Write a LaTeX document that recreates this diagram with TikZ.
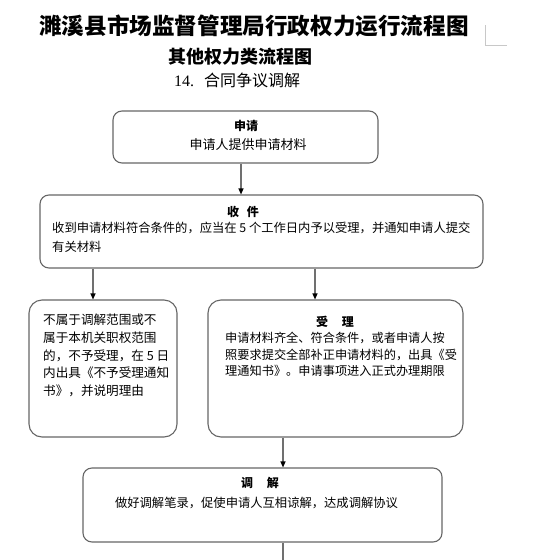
\documentclass[tikz,border=0pt]{standalone}
\usepackage{fontspec}
\setmainfont{Liberation Serif}
\newfontfamily\cjk{Noto Sans CJK SC}
\usetikzlibrary{arrows.meta}
\definecolor{boxgray}{HTML}{666666}
\definecolor{linegray}{HTML}{707070}
\definecolor{markgray}{HTML}{C8C8C8}
\tikzset{
  box/.style={draw=boxgray, line width=1.1pt, rounded corners=9pt, inner sep=0pt},
  arr/.style={draw=linegray, line width=1.1pt, -{Triangle[length=6pt,width=5pt,color=black]}},
  plain/.style={draw=linegray, line width=1.1pt},
  ttl/.style={inner sep=0pt, font=\cjk\bfseries},
  txt/.style={inner sep=0pt, font=\cjk\fontsize{12.3}{17}\selectfont, align=left},
  hd/.style={inner sep=0pt, font=\cjk\bfseries\fontsize{12}{14}\selectfont},
}
\begin{document}
\begin{tikzpicture}[x=1pt,y=-1pt]
\useasboundingbox (0,0) rectangle (550,560);
% titles
\node[ttl, font=\cjk\bfseries\fontsize{22.6}{24}\selectfont] (title) at (254,26) {濉溪县市场监督管理局行政权力运行流程图};
\node[ttl, font=\cjk\bfseries\fontsize{18}{20}\selectfont] (sub) at (240,57) {其他权力类流程图};
\node[inner sep=0pt] (num) at (237,80) {\fontsize{16}{18}\selectfont 14.\hspace{10pt}{\cjk 合同争议调解}};
% corner mark
\draw[markgray, line width=0.8pt] (485,25) -- (485,45) -- (507,45);
% boxes
\node[box, minimum width=265pt, minimum height=52pt] (apply) at (245.5,137) {};
\node[box, minimum width=443pt, minimum height=73pt] (receive) at (261.5,231.5) {};
\node[box, minimum width=148pt, minimum height=137pt, rounded corners=13pt] (reject) at (103,368.5) {};
\node[box, minimum width=255pt, minimum height=137pt, rounded corners=13pt] (accept) at (335.5,368.5) {};
\node[box, minimum width=359pt, minimum height=74pt] (mediate) at (262.5,505) {};
% texts
\node[hd] (applyh) at (246,126) {申请};
\node[txt, font=\cjk\fontsize{13}{15}\selectfont] (applyt) at (248,145) {申请人提供申请材料};
\node[hd] (receiveh) at (243,212) {收\hspace{8pt}件};
\node[txt, anchor=west] (receivet1) at (52,228) {收到申请材料符合条件的，应当在 5 个工作日内予以受理，并通知申请人提交};
\node[txt, anchor=west] (receivet2) at (52,247) {有关材料};
\node[txt, anchor=north west, font=\cjk\fontsize{12.6}{17.6}\selectfont] (rejectt) at (43,314) {不属于调解范围或不\\属于本机关职权范围\\的，不予受理，在 5 日\\内出具《不予受理通知\\书》，并说明理由};
\node[hd] (accepth) at (335,322) {受\hspace{14pt}理};
\node[txt, anchor=north west, font=\cjk\fontsize{12.2}{16.5}\selectfont] (acceptt) at (225,332) {申请材料齐全、符合条件，或者申请人按\\照要求提交全部补正申请材料的，出具《受\\理通知书》。申请事项进入正式办理期限};
\node[hd] (mediateh) at (260,483) {调\hspace{14pt}解};
\node[txt] (mediatet) at (256.5,503) {做好调解笔录，促使申请人互相谅解，达成调解协议};
% connectors
\coordinate (bottom) at (283,560);
\draw[arr] ([xshift=-4.5pt]apply.south) -- ([xshift=-4.5pt]apply.south |- receive.north);
\draw[arr] ([xshift=-10pt]reject.north |- receive.south) -- ([xshift=-10pt]reject.north);
\draw[arr] ([xshift=-20.5pt]accept.north |- receive.south) -- ([xshift=-20.5pt]accept.north);
\draw[arr] ([xshift=20.5pt]mediate.north |- accept.south) -- ([xshift=20.5pt]mediate.north);
\draw[plain] ([xshift=20.5pt]mediate.south) -- (bottom);
\end{tikzpicture}
\end{document}
